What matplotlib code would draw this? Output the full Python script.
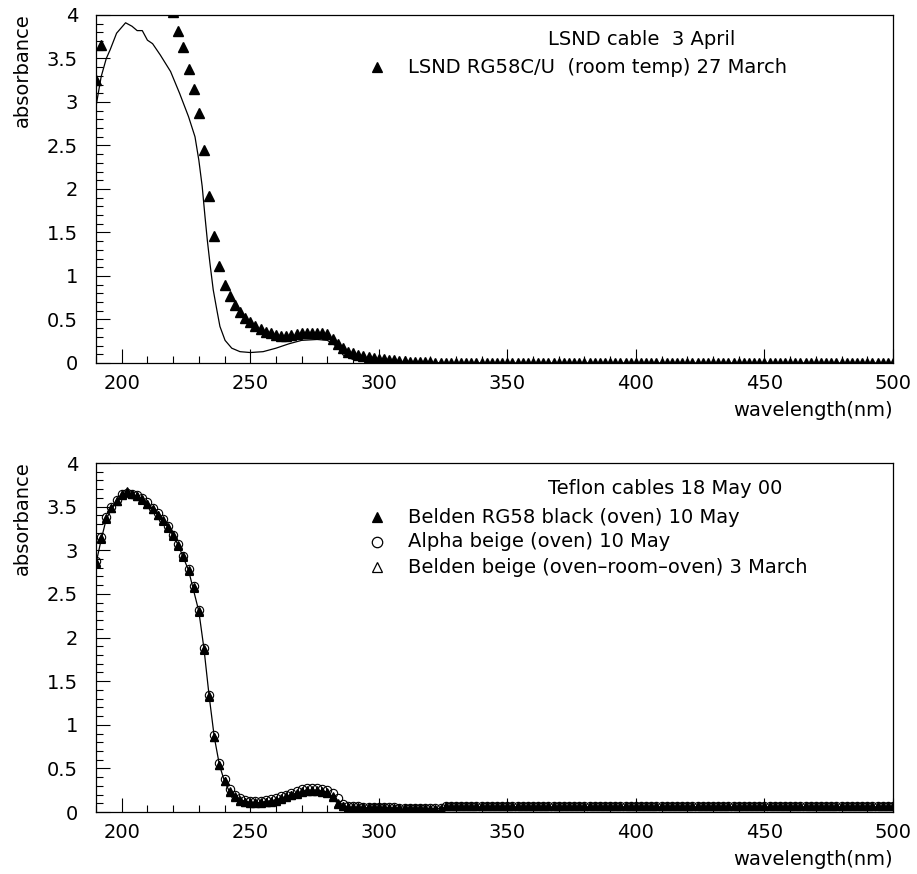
import numpy as np
import matplotlib.pyplot as plt
from matplotlib.ticker import MultipleLocator, FuncFormatter

plt.rcParams['font.family'] = ['DejaVu Sans']

# wavelength grid of the spectrophotometer scans (nm)
wl_scan = np.arange(190, 502, 2)

# --- LSND cable (top) ---
# solid curve: LSND cable 3 April
wl_lsnd_line = [190, 192, 194, 195.5, 198, 201.5, 204, 206, 208, 210, 212, 215,
                219, 222.5, 226, 228.5, 230, 231.3, 232.4, 233.3, 234.3, 235.6,
                237, 238.2, 240.2, 242.8, 246, 250, 255, 260, 265, 270, 276, 280,
                283.6, 286.2, 290, 295, 300, 350, 400, 450, 500]
abs_lsnd_line = [2.95, 3.29, 3.50, 3.60, 3.79, 3.91, 3.87, 3.82, 3.82, 3.71, 3.67, 3.54,
                 3.35, 3.10, 2.83, 2.60, 2.33, 2.03, 1.68, 1.41, 1.15, 0.84,
                 0.61, 0.42, 0.26, 0.17, 0.13, 0.12, 0.13, 0.17, 0.22, 0.26, 0.27, 0.26,
                 0.19, 0.09, 0.04, 0.015, 0.005, 0.0, 0.0, 0.0, 0.0]

# triangles: LSND RG58C/U (room temp) 27 March, off scale (>4) between 194 and 218 nm
abs_lsnd_rg58 = [
    3.25, 3.66, np.nan, np.nan, np.nan, np.nan, np.nan, np.nan, np.nan, np.nan, np.nan, np.nan,
    np.nan, np.nan, np.nan, 4.03, 3.81, 3.63, 3.38, 3.15, 2.87, 2.45, 1.92, 1.46,
    1.11, 0.90, 0.77, 0.67, 0.59, 0.52, 0.47, 0.43, 0.39, 0.36, 0.34, 0.32,
    0.31, 0.31, 0.32, 0.33, 0.34, 0.35, 0.35, 0.35, 0.34, 0.33, 0.28, 0.22,
    0.17, 0.13, 0.11, 0.09, 0.08, 0.07, 0.06, 0.05, 0.04, 0.035, 0.03, 0.025,
    0.02, 0.015, 0.01, 0.01, 0.008, 0.006, 0.005, 0.005, 0.005, 0.005, 0.005, 0.005,
    0.005, 0.005, 0.005, 0.005, 0.005, 0.005, 0.005, 0.005, 0.005, 0.005, 0.005, 0.005,
    0.005, 0.005, 0.005, 0.005, 0.005, 0.005, 0.005, 0.005, 0.005, 0.005, 0.005, 0.005,
    0.005, 0.005, 0.005, 0.005, 0.005, 0.005, 0.005, 0.005, 0.005, 0.005, 0.005, 0.005,
    0.005, 0.005, 0.005, 0.005, 0.005, 0.005, 0.005, 0.005, 0.005, 0.005, 0.005, 0.005,
    0.005, 0.005, 0.005, 0.005, 0.005, 0.005, 0.005, 0.005, 0.005, 0.005, 0.005, 0.005,
    0.005, 0.005, 0.005, 0.005, 0.005, 0.005, 0.005, 0.005, 0.005, 0.005, 0.005, 0.005,
    0.005, 0.005, 0.005, 0.005, 0.005, 0.005, 0.005, 0.005, 0.005, 0.005, 0.005, 0.005,
]

# --- Teflon cables (bottom) ---
# solid curve: Teflon cables 18 May 00
wl_teflon_line = [190, 192, 194, 196, 198, 200, 202, 206, 210, 214, 218, 222, 226,
                  230, 232, 234, 236, 238, 240, 242, 246, 250, 254, 260, 266, 272,
                  276, 280, 284, 288, 295, 325, 326, 500]
abs_teflon_line = [2.85, 3.12, 3.36, 3.47, 3.56, 3.63, 3.66, 3.62, 3.54, 3.41, 3.27, 3.06, 2.77,
                   2.30, 1.87, 1.33, 0.86, 0.54, 0.35, 0.23, 0.14, 0.11, 0.11, 0.14, 0.20, 0.25,
                   0.25, 0.23, 0.12, 0.05, 0.05, 0.04, 0.06, 0.06]

abs_belden_black = [
    2.87, 3.14, 3.37, 3.48, 3.56, 3.63, 3.67, 3.64, 3.62, 3.59, 3.53, 3.47,
    3.41, 3.35, 3.27, 3.17, 3.06, 2.93, 2.77, 2.58, 2.30, 1.87, 1.33, 0.86,
    0.54, 0.35, 0.23, 0.17, 0.13, 0.11, 0.10, 0.10, 0.10, 0.11, 0.12, 0.13,
    0.15, 0.17, 0.19, 0.21, 0.23, 0.24, 0.24, 0.24, 0.23, 0.22, 0.17, 0.09,
    0.07, 0.06, 0.06, 0.06, 0.06, 0.06, 0.055, 0.055, 0.055, 0.05, 0.05, 0.05,
    0.05, 0.05, 0.045, 0.045, 0.045, 0.04, 0.04, 0.04, 0.065, 0.065, 0.065, 0.065,
    0.065, 0.065, 0.065, 0.065, 0.065, 0.065, 0.065, 0.065, 0.065, 0.065, 0.065, 0.065,
    0.065, 0.065, 0.065, 0.065, 0.065, 0.065, 0.065, 0.065, 0.065, 0.065, 0.065, 0.065,
    0.065, 0.065, 0.065, 0.065, 0.065, 0.065, 0.065, 0.065, 0.065, 0.065, 0.065, 0.065,
    0.065, 0.065, 0.065, 0.065, 0.065, 0.065, 0.065, 0.065, 0.065, 0.065, 0.065, 0.065,
    0.065, 0.065, 0.065, 0.065, 0.065, 0.065, 0.065, 0.065, 0.065, 0.065, 0.065, 0.065,
    0.065, 0.065, 0.065, 0.065, 0.065, 0.065, 0.065, 0.065, 0.065, 0.065, 0.065, 0.065,
    0.065, 0.065, 0.065, 0.065, 0.065, 0.065, 0.065, 0.065, 0.065, 0.065, 0.065, 0.065,
]
abs_alpha_beige = [
    2.88, 3.15, 3.38, 3.50, 3.58, 3.64, 3.66, 3.65, 3.63, 3.60, 3.55, 3.49,
    3.43, 3.36, 3.28, 3.18, 3.07, 2.94, 2.78, 2.59, 2.31, 1.88, 1.34, 0.88,
    0.56, 0.38, 0.26, 0.20, 0.16, 0.14, 0.13, 0.13, 0.13, 0.14, 0.15, 0.16,
    0.18, 0.20, 0.22, 0.24, 0.26, 0.27, 0.27, 0.27, 0.26, 0.25, 0.22, 0.16,
    0.09, 0.07, 0.065, 0.065, 0.06, 0.06, 0.06, 0.06, 0.055, 0.055, 0.055, 0.05,
    0.05, 0.05, 0.05, 0.05, 0.045, 0.045, 0.045, 0.045, 0.07, 0.07, 0.07, 0.07,
    0.07, 0.07, 0.07, 0.07, 0.07, 0.07, 0.07, 0.07, 0.07, 0.07, 0.07, 0.07,
    0.07, 0.07, 0.07, 0.07, 0.07, 0.07, 0.07, 0.07, 0.07, 0.07, 0.07, 0.07,
    0.07, 0.07, 0.07, 0.07, 0.07, 0.07, 0.07, 0.07, 0.07, 0.07, 0.07, 0.07,
    0.07, 0.07, 0.07, 0.07, 0.07, 0.07, 0.07, 0.07, 0.07, 0.07, 0.07, 0.07,
    0.07, 0.07, 0.07, 0.07, 0.07, 0.07, 0.07, 0.07, 0.07, 0.07, 0.07, 0.07,
    0.07, 0.07, 0.07, 0.07, 0.07, 0.07, 0.07, 0.07, 0.07, 0.07, 0.07, 0.07,
    0.07, 0.07, 0.07, 0.07, 0.07, 0.07, 0.07, 0.07, 0.07, 0.07, 0.07, 0.07,
]
abs_belden_beige = [
    2.86, 3.13, 3.36, 3.48, 3.57, 3.64, 3.68, 3.65, 3.62, 3.58, 3.53, 3.47,
    3.41, 3.34, 3.26, 3.16, 3.05, 2.92, 2.76, 2.57, 2.29, 1.86, 1.32, 0.86,
    0.54, 0.36, 0.24, 0.18, 0.14, 0.12, 0.11, 0.11, 0.11, 0.12, 0.13, 0.14,
    0.16, 0.18, 0.20, 0.22, 0.24, 0.25, 0.25, 0.25, 0.24, 0.23, 0.18, 0.10,
    0.07, 0.06, 0.06, 0.06, 0.06, 0.055, 0.055, 0.055, 0.05, 0.05, 0.05, 0.05,
    0.05, 0.045, 0.045, 0.045, 0.04, 0.04, 0.04, 0.04, 0.065, 0.065, 0.065, 0.065,
    0.065, 0.065, 0.065, 0.065, 0.065, 0.065, 0.065, 0.065, 0.065, 0.065, 0.065, 0.065,
    0.065, 0.065, 0.065, 0.065, 0.065, 0.065, 0.065, 0.065, 0.065, 0.065, 0.065, 0.065,
    0.065, 0.065, 0.065, 0.065, 0.065, 0.065, 0.065, 0.065, 0.065, 0.065, 0.065, 0.065,
    0.065, 0.065, 0.065, 0.065, 0.065, 0.065, 0.065, 0.065, 0.065, 0.065, 0.065, 0.065,
    0.065, 0.065, 0.065, 0.065, 0.065, 0.065, 0.065, 0.065, 0.065, 0.065, 0.065, 0.065,
    0.065, 0.065, 0.065, 0.065, 0.065, 0.065, 0.065, 0.065, 0.065, 0.065, 0.065, 0.065,
    0.065, 0.065, 0.065, 0.065, 0.065, 0.065, 0.065, 0.065, 0.065, 0.065, 0.065, 0.065,
]

FS = 14


def style_axes(ax):
    ax.set_xlim(190, 500)
    ax.set_ylim(0, 4)
    ax.xaxis.set_major_locator(MultipleLocator(50))
    ax.xaxis.set_minor_locator(MultipleLocator(10))
    ax.yaxis.set_major_locator(MultipleLocator(0.5))
    ax.yaxis.set_minor_locator(MultipleLocator(0.1))
    ax.yaxis.set_major_formatter(FuncFormatter(lambda v, p: '%g' % v))
    ax.tick_params(which='both', direction='in', top=False, right=False, width=0.8)
    ax.tick_params(which='major', length=10)
    ax.tick_params(which='minor', length=5)
    ax.tick_params(axis='x', which='major', pad=8, labelsize=FS)
    ax.tick_params(axis='y', which='major', pad=13, labelsize=FS)
    for s in ax.spines.values():
        s.set_linewidth(0.9)
    ax.text(-0.093, 1.005, 'absorbance', rotation=90, ha='center', va='top',
            fontsize=FS, transform=ax.transAxes)
    ax.text(1.0, -0.137, 'wavelength(nm)', ha='right', va='center',
            fontsize=FS, transform=ax.transAxes)


def legend_entry(ax, y, marker, filled, label):
    ax.plot([0.3526], [y], marker=marker, ms=7.5, ls='none',
            mfc='black' if filled else 'none', mec='black', mew=0.9,
            transform=ax.transAxes, clip_on=False)
    ax.text(0.3915, y, label, ha='left', va='center', fontsize=FS,
            transform=ax.transAxes)


fig = plt.figure(figsize=(9.17, 8.74), dpi=100)
ax1 = fig.add_axes([0.1047, 0.5847, 0.8691, 0.3982])
ax2 = fig.add_axes([0.1047, 0.0709, 0.8691, 0.3993])

# top panel
ax1.plot(wl_lsnd_line, abs_lsnd_line, color='black', lw=0.9)
ax1.plot(wl_scan, abs_lsnd_rg58, ls='none', marker='^', ms=6.5,
         mfc='black', mec='black')
style_axes(ax1)
ax1.text(0.567, 0.93, 'LSND cable  3 April', ha='left', va='center',
         fontsize=FS, transform=ax1.transAxes)
legend_entry(ax1, 0.85, '^', True, 'LSND RG58C/U  (room temp) 27 March')

# bottom panel
ax2.plot(wl_teflon_line, abs_teflon_line, color='black', lw=0.9)
ax2.plot(wl_scan, abs_belden_black, ls='none', marker='^', ms=6,
         mfc='black', mec='black')
ax2.plot(wl_scan, abs_alpha_beige, ls='none', marker='o', ms=6,
         mfc='none', mec='black', mew=0.8)
ax2.plot(wl_scan, abs_belden_beige, ls='none', marker='^', ms=6,
         mfc='none', mec='black', mew=0.8)
style_axes(ax2)
ax2.text(0.567, 0.928, 'Teflon cables 18 May 00', ha='left', va='center',
         fontsize=FS, transform=ax2.transAxes)
legend_entry(ax2, 0.845, '^', True, 'Belden RG58 black (oven) 10 May')
legend_entry(ax2, 0.774, 'o', False, 'Alpha beige (oven) 10 May')
legend_entry(ax2, 0.702, '^', False, 'Belden beige (oven\u2013room\u2013oven) 3 March')

fig.savefig('out.png', dpi=100)
